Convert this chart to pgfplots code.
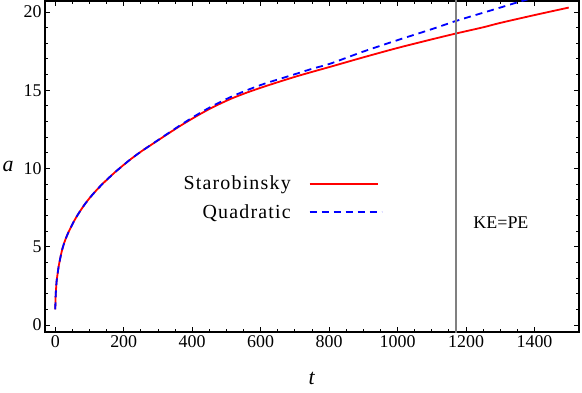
\documentclass[border=0pt]{standalone}
\usepackage{pgfplots}
\pgfplotsset{compat=1.18}
\usepackage{fontspec}
\setmainfont{Liberation Serif}
\begin{document}
\begin{tikzpicture}
\begin{axis}[
  name=ax,
  scale only axis,
  width=534bp, height=331bp,
  xmin=-30, xmax=1530, ymin=-0.45, ymax=20.7,
  xtick={0,200,400,600,800,1000,1200,1400},
  ytick={0,5,10,15,20},
  minor x tick num=3, minor y tick num=4,
  tick align=inside,
  xtick pos=both, ytick pos=both,
  xticklabel pos=bottom, yticklabel pos=left,
  major tick length=5bp, minor tick length=3bp,
  every tick/.style={black, line width=0.9bp},
  axis line style={line width=1.3bp},
  /pgf/number format/assume math mode=true,
  /pgf/number format/1000 sep={},
  tick label style={font=\fontsize{18}{20}\selectfont},
  xlabel={\textit{t}}, ylabel={\textit{a}},
  label style={font=\fontsize{22}{24}\selectfont},
  xlabel style={at={(axis description cs:0.5,0)}, anchor=center, yshift=-46bp},
  ylabel style={at={(axis description cs:0,0.5)}, anchor=center, rotate=-90, xshift=-37bp},
  clip=true,
  legend plot pos=right,
  legend cell align=right,
  legend style={draw=none, fill=none, at={(0.638,0.405)}, anchor=east,
    font=\fontsize{20}{23}\selectfont\addfontfeatures{LetterSpace=6},
    row sep=9bp, column sep=16bp},
]
\addplot[red, line width=1.8bp, smooth,
  legend image code/.code={\draw[red, line width=1.8bp] (0bp,0bp) -- (68bp,0bp);}] coordinates {
(0,1.0) (1,1.8) (2,2.2) (4,2.8) (7,3.3) (10,3.75) (14,4.2) (20,4.8) (27,5.3)
(35,5.75) (44,6.17) (55,6.64) (68,7.12) (82,7.58) (97,8.02) (117,8.53) (137,8.99)
(156,9.39) (175,9.77) (195,10.14) (215,10.5) (236,10.85) (260,11.22) (290,11.65)
(317,12.04) (365,12.72) (414,13.36) (460,13.91)
(512,14.44) (560,14.85) (609,15.22) (660,15.58) (707,15.9) (755,16.2) (804,16.5)
(900,17.1) (1000,17.7) (1100,18.25)
(1170,18.62) (1250,19.02) (1300,19.3) (1400,19.8) (1500,20.28)
};
\addlegendentry{Starobinsky}
\addplot[blue, line width=1.8bp, smooth, dash pattern=on 7bp off 5bp,
  legend image code/.code={\draw[blue, line width=1.8bp, dash pattern=on 7bp off 5bp] (0bp,0bp) -- (72bp,0bp);}] coordinates {
(0,1.0) (1,1.8) (2,2.2) (4,2.8) (7,3.3) (10,3.75) (14,4.2) (20,4.8) (27,5.3)
(35,5.75) (44,6.17) (55,6.64) (68,7.12) (82,7.58) (97,8.02) (117,8.53) (137,8.99)
(156,9.39) (175,9.77) (195,10.14) (215,10.5) (236,10.85) (260,11.22) (290,11.66)
(317,12.06) (365,12.76) (414,13.43) (460,14.0)
(512,14.56) (560,15.0) (609,15.4) (660,15.75) (707,16.07) (755,16.4) (804,16.7)
(900,17.47) (1000,18.2) (1100,18.9)
(1170,19.42) (1250,19.95) (1300,20.28) (1360,20.68) (1400,20.92) (1500,21.5)
};
\addlegendentry{Quadratic}
\addplot[color={rgb,255:red,128;green,128;blue,128}, line width=1.7bp, forget plot] coordinates {(1170,-1) (1170,22)};
\node[anchor=center, font=\fontsize{18}{21}\selectfont] at (axis cs:1302,6.56) {KE=PE};
\end{axis}
\pgfresetboundingbox
\path ([shift={(-45bp,-61bp)}]ax.south west) rectangle ([shift={(3bp,1bp)}]ax.north east);
\end{tikzpicture}
\end{document}
